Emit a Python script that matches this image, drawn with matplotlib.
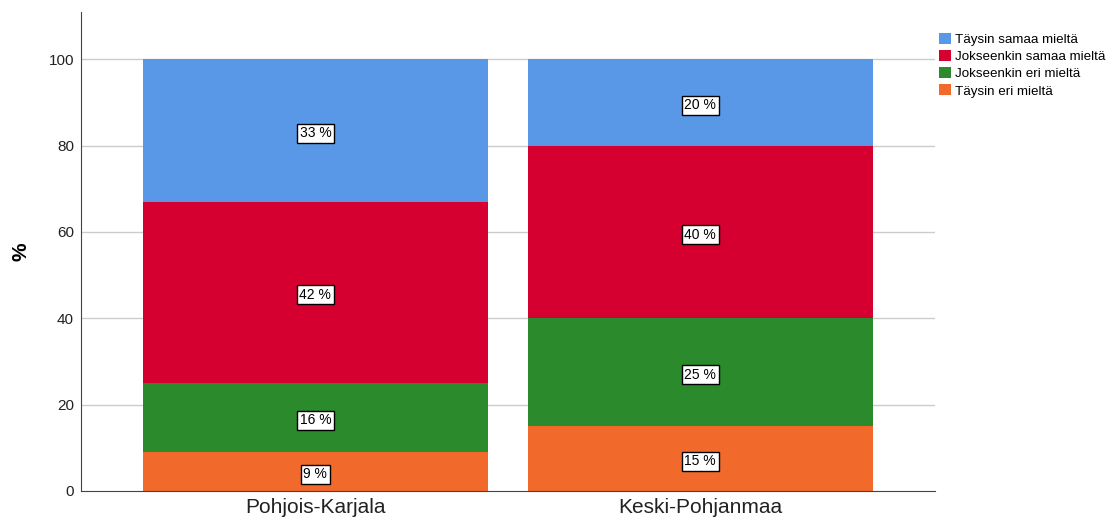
import numpy as np
import matplotlib.pyplot as plt

plt.rcParams['font.family'] = ['Liberation Sans', 'DejaVu Sans']

regions = ['Pohjois-Karjala', 'Keski-Pohjanmaa']
answers = ['Täysin eri mieltä', 'Jokseenkin eri mieltä',
           'Jokseenkin samaa mieltä', 'Täysin samaa mieltä']
# percentage shares per region, bottom to top
shares = {
    'Täysin eri mieltä': [9, 15],
    'Jokseenkin eri mieltä': [16, 25],
    'Jokseenkin samaa mieltä': [42, 40],
    'Täysin samaa mieltä': [33, 20],
}
colors = {
    'Täysin eri mieltä': '#F2692C',
    'Jokseenkin eri mieltä': '#2B8A2B',
    'Jokseenkin samaa mieltä': '#D5002F',
    'Täysin samaa mieltä': '#5898E6',
}

fig = plt.figure(figsize=(11.1, 5.22), dpi=100)
ax = fig.add_axes([0.073, 0.0594, 0.769, 0.918])

x = np.arange(len(regions))
bottom = np.zeros(len(regions))
for a in answers:
    vals = np.array(shares[a], dtype=float)
    ax.bar(x, vals, 0.896, bottom=bottom, color=colors[a], label=a, zorder=2)
    for xi, b, v in zip(x, bottom, vals):
        ax.text(xi, b + v / 2 - 0.6, f'{v:.0f} %', ha='center', va='center', fontsize=10,
                bbox=dict(boxstyle='square,pad=0.18', fc='white', ec='black', lw=1),
                zorder=3)
    bottom += vals

ax.set_xlim(-0.609, 1.609)
ax.set_ylim(0, 111)
ax.set_yticks([0, 20, 40, 60, 80, 100])
ax.set_xticks(x)
ax.set_xticklabels(regions, fontsize=15, color='#222222')
ax.tick_params(axis='both', length=0, pad=5)
ax.tick_params(axis='y', labelsize=11, colors='#222222')
ax.set_ylabel('%', fontsize=15, fontweight='bold', labelpad=13)
for y in [20, 40, 60, 80, 100]:
    ax.axhline(y, color='#CCCCCC', lw=1, zorder=1)
for s in ['top', 'right']:
    ax.spines[s].set_visible(False)
ax.spines['left'].set_color('#444444')
ax.spines['bottom'].set_color('#444444')

handles, labels = ax.get_legend_handles_labels()
leg = fig.legend(handles[::-1], labels[::-1], loc='upper left',
                 bbox_to_anchor=(0.841, 0.947), frameon=False, fontsize=9.6,
                 handlelength=0.9, handleheight=0.9, handletextpad=0.3,
                 labelspacing=0.3, borderaxespad=0)

fig.savefig('out.png', dpi=100)
